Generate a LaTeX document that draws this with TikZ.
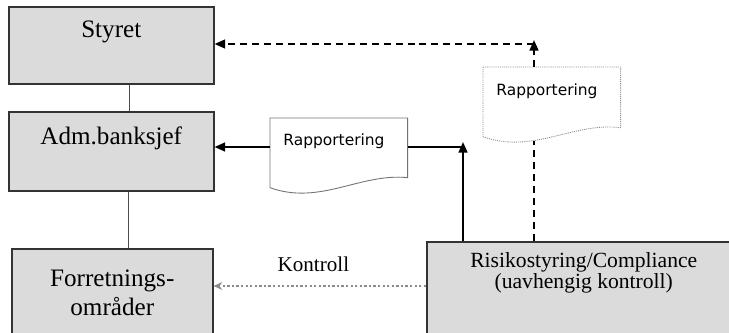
\documentclass[tikz,border=0pt]{standalone}
\usepackage{fontspec}
\setmainfont{Liberation Serif}
\newfontfamily\dokfont{DejaVu Sans}
\usetikzlibrary{arrows.meta,calc}

\begin{document}
\begin{tikzpicture}[x=0.02cm,y=-0.02cm,
    boks/.style={draw=black!80, line width=0.9pt, fill=black!14, anchor=north west,
      inner sep=0pt, align=center, font=\fontsize{14.3}{16.5}\selectfont},
    dok/.style={anchor=north west, inner xsep=0.26cm, inner ysep=0pt, text width=2.22cm,
      align=left, font=\dokfont\fontsize{8.8}{10}\selectfont},
    pil/.style={line width=1.1pt, -{Triangle[length=6pt,width=5pt]}},
    stiplet/.style={line width=1.1pt, dash pattern=on 4pt off 2.8pt},
    strek/.style={draw=black!70, line width=0.6pt},
    kontrollpil/.style={draw=black!45, line width=0.7pt, dash pattern=on 1.3pt off 1.3pt,
      -{Stealth[length=5pt,width=4.5pt]}}]
        \useasboundingbox (0,0) rectangle (729,332);

        % 組織のボックス
        \node[boks, minimum width=4.1cm, text height=0.62cm, text depth=0.92cm] (styret) at (8,6) {Styret};
        \node[boks, minimum width=4.1cm, text height=0.66cm, text depth=0.92cm] (adm) at (8,111) {Adm.banksjef};
        \node[boks, minimum width=4.02cm, text height=1.34cm, text depth=2cm] (forr) at (11,248) {Forretnings-\\områder};
        \node[boks, minimum width=6.28cm, text height=0.94cm, text depth=2cm,
          font=\fontsize{12.3}{11}\selectfont] (risiko) at (426,241) {Risikostyring/Compliance\\(uavhengig kontroll)};

        % 縦の線
        \draw[strek] ([xshift=0.37cm]styret.south) -- ([xshift=0.37cm]adm.north);
        \draw[strek] ([xshift=0.35cm]adm.south) coordinate (a) -- (forr.north -| a);

        % 報告書
        \node[dok, text height=0.54cm, text depth=0.84cm] (rap1) at (270,118) {Rapportering};
        \node[dok, text height=0.56cm, text depth=0.82cm] (rap2) at (483,67) {Rapportering};
        \draw[draw=black!55, line width=0.5pt] (rap1.north west) -- (rap1.north east) -- ([yshift=0.2cm]rap1.south east)
          .. controls ([xshift=-0.94cm,yshift=0.3cm]rap1.south east) and ([xshift=1cm,yshift=-0.36cm]rap1.south west) .. (rap1.south west) -- cycle;
        \draw[draw=black!45, line width=0.5pt, dash pattern=on 0.6pt off 0.6pt] (rap2.north west) -- (rap2.north east) -- ([yshift=0.18cm]rap2.south east)
          .. controls ([xshift=-0.94cm,yshift=0.3cm]rap2.south east) and ([xshift=1cm,yshift=-0.36cm]rap2.south west) .. (rap2.south west) -- cycle;

        % 報告の矢印
        \coordinate (hj1) at (463,147);
        \draw[pil] (risiko.north -| hj1) -- ([yshift=0.1cm]hj1);
        \draw[line width=1.1pt] (rap1.east |- hj1) -- (hj1);
        \draw[pil] (rap1.west |- hj1) -- (adm.east |- hj1);

        \coordinate (hj2) at (534,44);
        \draw[stiplet] (risiko.north -| hj2) -- ($(rap2.south -| hj2)+(0pt,-0.08cm)$);
        \draw[pil, stiplet] (rap2.north -| hj2) -- ([yshift=0.08cm]hj2);
        \draw[pil, stiplet] (hj2) -- (styret.east |- hj2);

        % コントロール
        \draw[kontrollpil] ([yshift=-0.9cm]risiko.north west) coordinate (k) -- (forr.east |- k)
          node[pos=0.53, above=0.28cm, inner sep=0pt, text=black, font=\fontsize{12}{14}\selectfont] {Kontroll};
    \end{tikzpicture}
\end{document}
